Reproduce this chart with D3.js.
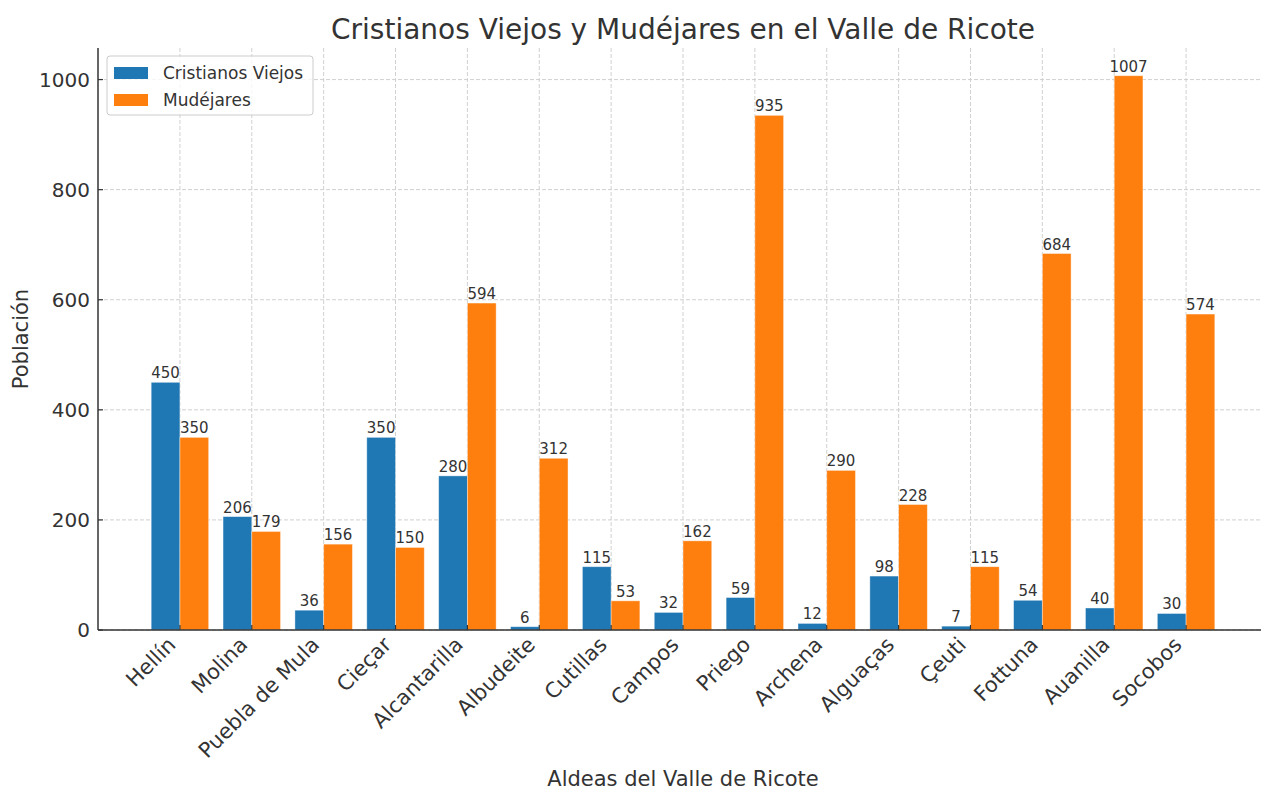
<!DOCTYPE html>
<html>
<head>
<meta charset="utf-8">
<script src="https://cdn.jsdelivr.net/npm/d3@7"></script>
<style>
  body { margin: 0; background: #fff; }
  svg { display: block; font-family: "DejaVu Sans", sans-serif; }
</style>
</head>
<body>
<div id="chart"></div>
<script>
const aldeas = ["Hellín", "Molina", "Puebla de Mula", "Cieçar", "Alcantarilla", "Albudeite", "Cutillas",
  "Campos", "Priego", "Archena", "Alguaças", "Çeuti", "Fottuna", "Auanilla", "Socobos"];
const cristianosViejos = [450, 206, 36, 350, 280, 6, 115, 32, 59, 12, 98, 7, 54, 40, 30];
const mudejares = [350, 179, 156, 150, 594, 312, 53, 162, 935, 290, 228, 115, 684, 1007, 574];
const series = ["Cristianos Viejos", "Mudéjares"];
const yTicks = [0, 200, 400, 600, 800, 1000];

const width = 1261;
const height = 790;
const margin = { top: 48, right: -7, bottom: 160, left: 98 };
const innerW = width - margin.left - margin.right;
const innerH = height - margin.top - margin.bottom;

const color = d3.scaleOrdinal().domain(series).range(["#1f77b4", "#ff7f0e"]);
const textColor = "#333";

const svg = d3.select("#chart")
  .append("svg")
  .attr("width", width)
  .attr("height", height);

const g = svg.append("g")
  .attr("transform", `translate(${margin.left},${margin.top})`);

// x in category-index units, same padding as matplotlib (0.4 bars + 5% margin)
const n = aldeas.length;
const barW = 0.4;
const span = (n - 1) + 2 * barW;
const x = d3.scaleLinear()
  .domain([-barW - span * 0.05, (n - 1) + barW + span * 0.05])
  .range([0, innerW]);

const yMax = d3.max(mudejares.concat(cristianosViejos)) * 1.05;
const y = d3.scaleLinear().domain([0, yMax]).range([innerH, 0]);

// grid
g.append("g")
  .selectAll("line")
  .data(yTicks)
  .enter()
  .append("line")
  .attr("x1", 0).attr("x2", innerW)
  .attr("y1", d => y(d)).attr("y2", d => y(d))
  .attr("stroke", "#d0d0d0")
  .attr("stroke-dasharray", "4,2");

g.append("g")
  .selectAll("line")
  .data(aldeas)
  .enter()
  .append("line")
  .attr("x1", (_, i) => x(i)).attr("x2", (_, i) => x(i))
  .attr("y1", 0).attr("y2", innerH)
  .attr("stroke", "#d0d0d0")
  .attr("stroke-dasharray", "4,2");

// bars
const rows = aldeas.map((a, i) => ({ a, i, vals: [cristianosViejos[i], mudejares[i]] }));
const bw = x(barW) - x(0);

rows.forEach(r => {
  r.vals.forEach((v, k) => {
    const x0 = k === 0 ? x(r.i - barW) : x(r.i);
    g.append("rect")
      .attr("x", x0)
      .attr("y", y(v))
      .attr("width", bw)
      .attr("height", innerH - y(v))
      .attr("fill", color(series[k]))
      .attr("stroke", "rgba(255,255,255,0.5)")
      .attr("stroke-width", 0.8);

    g.append("text")
      .attr("x", x0 + bw / 2)
      .attr("y", y(v) - 4)
      .attr("text-anchor", "middle")
      .attr("fill", textColor)
      .style("font-size", "15px")
      .text(v);
  });
});

// spines
g.append("line")
  .attr("x1", 0).attr("x2", 0).attr("y1", 0).attr("y2", innerH)
  .attr("stroke", "#333").attr("stroke-width", 1.5);
g.append("line")
  .attr("x1", 0).attr("x2", innerW).attr("y1", innerH).attr("y2", innerH)
  .attr("stroke", "#333").attr("stroke-width", 1.5);

// y ticks
const yt = g.append("g").selectAll("g").data(yTicks).enter().append("g");
yt.append("line")
  .attr("x1", 0).attr("x2", 5)
  .attr("y1", d => y(d)).attr("y2", d => y(d))
  .attr("stroke", "#333").attr("stroke-width", 1.2);
yt.append("text")
  .attr("x", -8)
  .attr("y", d => y(d))
  .attr("dy", "0.36em")
  .attr("text-anchor", "end")
  .attr("fill", textColor)
  .style("font-size", "20px")
  .text(d => d);

// x ticks
const xt = g.append("g").selectAll("g").data(aldeas).enter().append("g");
xt.append("line")
  .attr("x1", (_, i) => x(i)).attr("x2", (_, i) => x(i))
  .attr("y1", innerH).attr("y2", innerH - 5)
  .attr("stroke", "#333").attr("stroke-width", 1.2);
xt.append("text")
  .attr("transform", (_, i) => `translate(${x(i) - 3},${innerH + 16}) rotate(-45)`)
  .attr("text-anchor", "end")
  .attr("fill", textColor)
  .style("font-size", "21px")
  .text(d => d);

// axis labels & title
svg.append("text")
  .attr("x", margin.left + innerW / 2)
  .attr("y", 786)
  .attr("text-anchor", "middle")
  .attr("fill", textColor)
  .style("font-size", "21px")
  .text("Aldeas del Valle de Ricote");

svg.append("text")
  .attr("transform", `translate(28,${margin.top + innerH / 2}) rotate(-90)`)
  .attr("text-anchor", "middle")
  .attr("fill", textColor)
  .style("font-size", "21px")
  .text("Población");

svg.append("text")
  .attr("x", margin.left + innerW / 2)
  .attr("y", 39)
  .attr("text-anchor", "middle")
  .attr("fill", textColor)
  .style("font-size", "28px")
  .text("Cristianos Viejos y Mudéjares en el Valle de Ricote");

// legend
const legend = g.append("g").attr("transform", "translate(9,8)");
legend.append("rect")
  .attr("width", 206).attr("height", 59)
  .attr("rx", 3)
  .attr("fill", "rgba(255,255,255,0.8)")
  .attr("stroke", "#ccc");
series.forEach((s, k) => {
  legend.append("rect")
    .attr("x", 7).attr("y", 11 + k * 27)
    .attr("width", 34).attr("height", 12)
    .attr("fill", color(s));
  legend.append("text")
    .attr("x", 56).attr("y", 17 + k * 27)
    .attr("dy", "0.36em")
    .attr("fill", textColor)
    .style("font-size", "17px")
    .text(s);
});
</script>
</body>
</html>
